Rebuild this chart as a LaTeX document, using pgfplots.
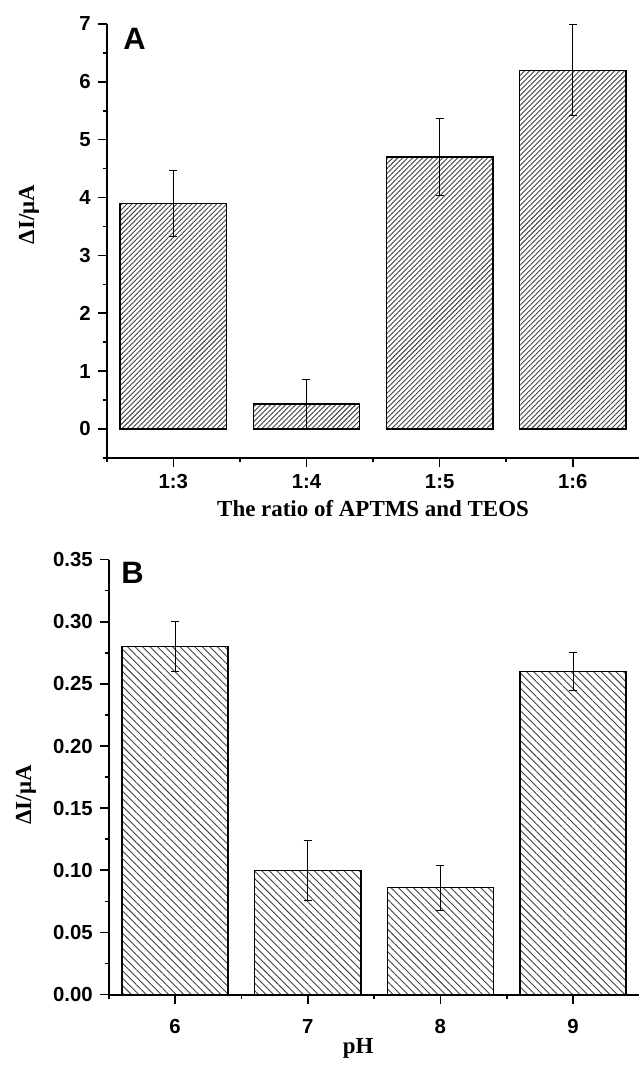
\documentclass[border=0pt]{standalone}
\usepackage{fontspec}
\setmainfont{Liberation Sans}
\newfontfamily\timesfont{Liberation Serif}
\usepackage{pgfplots}
\pgfplotsset{compat=1.18}
\usetikzlibrary{patterns.meta}

\pgfplotsset{
  panel/.style={
    scale only axis,
    clip=false,
    axis lines=left,
    axis line style={-, line width=1pt},
    tick align=outside,
    major tick length=4.5pt,
    minor tick length=2pt,
    tick style={black, line width=0.8pt},
    ybar, bar width=0.8,
    xmin=-0.5, xmax=3.5,
    xtick={0,1,2,3},
    minor xtick={-0.5,0.5,1.5,2.5},
    ticklabel style={font=\bfseries\fontsize{10.2}{12}\selectfont},
    xticklabel style={text height=7.5pt, text depth=0pt},
    /pgf/number format/assume math mode=true,
    label style={font=\timesfont\bfseries\fontsize{11.5}{13}\selectfont},
    ylabel={\timesfont\bfseries ΔI/μA},
  },
  errs/.style={
    error bars/.cd, y dir=both, y explicit,
    error bar style={black, line width=0.5pt},
    error mark options={black, rotate=90, mark size=2pt, line width=0.5pt},
  },
}

\begin{document}
\begin{tikzpicture}
% panel A
\begin{axis}[panel, name=A, at={(0,0)}, anchor=south west,
    width=267pt, height=217.5pt,
    ymin=-0.5, ymax=7,
    ytick={0,1,2,3,4,5,6,7},
    minor ytick={-0.5,0.5,1.5,2.5,3.5,4.5,5.5,6.5},
    xticklabels={1:3,1:4,1:5,1:6},
    xlabel={The ratio of APTMS and TEOS},
    xlabel style={at={(axis description cs:0.5,0)}, anchor=center, yshift=-25.5pt},
    ylabel style={at={(axis description cs:-0.146,0.561)}, anchor=center, rotate=0},
]
\addplot[draw=black, line width=0.7pt,
    pattern={Lines[angle=45, distance=1.77pt, line width=0.45pt]}, pattern color=black!75,
    errs] table[x=x, y=y, y error=e] {
x y e
0 3.90 0.57
1 0.43 0.43
2 4.70 0.67
3 6.20 0.79
};
\node[font=\bfseries\fontsize{15.5}{15.5}\selectfont] at (rel axis cs:0.052,0.966) {A};
\end{axis}

% panel B
\begin{axis}[panel, name=B, at={(1pt,-269pt)}, anchor=south west,
    width=266pt, height=218pt,
    ymin=0, ymax=0.35,
    ytick={0,0.05,0.10,0.15,0.20,0.25,0.30,0.35},
    minor ytick={0.025,0.075,0.125,0.175,0.225,0.275,0.325},
    yticklabel style={/pgf/number format/.cd, fixed, fixed zerofill, precision=2},
    xticklabels={6,7,8,9},
    xticklabel style={yshift=-4pt},
    xlabel={pH},
    xlabel style={at={(axis description cs:0.47,0)}, anchor=center, yshift=-27pt},
    ylabel style={at={(axis description cs:-0.156,0.459)}, anchor=center, rotate=0},
]
\addplot[draw=black, line width=0.7pt,
    pattern={Lines[angle=-45, distance=2.65pt, line width=0.45pt]}, pattern color=black!75,
    errs] table[x=x, y=y, y error=e] {
x y e
0 0.280 0.020
1 0.100 0.024
2 0.086 0.018
3 0.260 0.015
};
\node[font=\bfseries\fontsize{15.5}{15.5}\selectfont] at (rel axis cs:0.045,0.970) {B};
\end{axis}

\path (A.south west) ++(-53.5pt,229.5pt) rectangle ++(320.5pt,-532.5pt);
\end{tikzpicture}
\end{document}
